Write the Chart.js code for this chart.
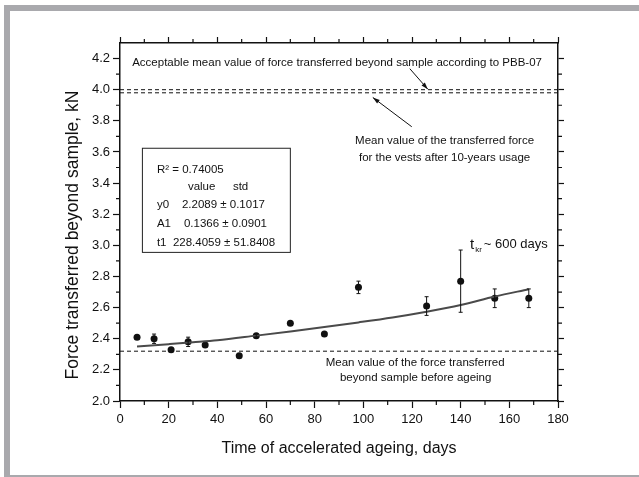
<!DOCTYPE html>
<html>
<head>
<meta charset="utf-8">
<script src="https://cdn.jsdelivr.net/npm/chart.js@4/dist/chart.umd.min.js"></script>
<style>
body{margin:0;background:#fff;}
#wrap{position:relative;width:639px;height:477px;overflow:hidden;background:#fff;}
.bar{position:absolute;background:#a9a9ad;}
canvas{position:absolute;left:0;top:0;}
</style>
</head>
<body>
<div id="wrap">
<div class="bar" style="left:4px;top:5px;width:635px;height:6px"></div>
<div class="bar" style="left:4px;top:5px;width:6px;height:472px"></div>
<div class="bar" style="left:4px;top:475px;width:635px;height:2px"></div>
<canvas id="meuGrafico" width="639" height="477"></canvas>
</div>
<script>
// measured points
var dias = [7, 14, 21, 28, 35, 49, 56, 70, 84, 98, 126, 140, 154, 168];
var forca = [2.41, 2.40, 2.33, 2.38, 2.36, 2.29, 2.42, 2.50, 2.43, 2.73, 2.61, 2.77, 2.66, 2.66];
var erro = [0.01, 0.03, 0, 0.03, 0.01, 0, 0.01, 0, 0, 0.04, 0.06, 0.2, 0.06, 0.06];

// fitted curve
var diasAjuste = [7, 20, 30, 40, 56, 70, 84, 98, 112, 126, 140, 154, 168];
var forcaAjuste = [2.35, 2.365, 2.377, 2.39, 2.42, 2.447, 2.475, 2.505, 2.537, 2.574, 2.617, 2.671, 2.718];

// reference levels: PBB-07, after 10 years, before ageing
var niveis = [4.00, 3.98, 2.32];

var xTicks = [0, 20, 40, 60, 80, 100, 120, 140, 160, 180];
var yTicks = [2.0, 2.2, 2.4, 2.6, 2.8, 3.0, 3.2, 3.4, 3.6, 3.8, 4.0, 4.2];

var fonte = "'Liberation Sans', Arial, sans-serif";
var preto = "#111";

var pontos = [];
for (var i = 0; i < dias.length; i++) pontos.push({x: dias[i], y: forca[i]});
var ajuste = [];
for (var i = 0; i < diasAjuste.length; i++) ajuste.push({x: diasAjuste[i], y: forcaAjuste[i]});

var datasets = [];
for (var i = 0; i < niveis.length; i++) {
  datasets.push({
    data: [{x: 0, y: niveis[i]}, {x: 180, y: niveis[i]}],
    showLine: true, pointRadius: 0, borderColor: preto, borderWidth: 1, borderDash: [4, 3]
  });
}
datasets.push({data: ajuste, showLine: true, pointRadius: 0, borderColor: "#4a4a4a", borderWidth: 2, cubicInterpolationMode: "monotone"});
datasets.push({data: pontos, showLine: false, pointRadius: 3.5, pointBorderWidth: 0, backgroundColor: preto, borderColor: preto});

function txt(ctx, s, x, y, size, align) {
  ctx.font = size + "px " + fonte;
  ctx.textAlign = align || "left";
  ctx.textBaseline = "middle";
  ctx.fillText(s, x, y);
}

function seta(ctx, x1, y1, x2, y2) {
  ctx.beginPath(); ctx.moveTo(x1, y1); ctx.lineTo(x2, y2); ctx.stroke();
  var ang = Math.atan2(y2 - y1, x2 - x1);
  ctx.beginPath();
  ctx.moveTo(x2, y2);
  ctx.lineTo(x2 - 7 * Math.cos(ang) + 2.2 * Math.sin(ang), y2 - 7 * Math.sin(ang) - 2.2 * Math.cos(ang));
  ctx.lineTo(x2 - 7 * Math.cos(ang) - 2.2 * Math.sin(ang), y2 - 7 * Math.sin(ang) + 2.2 * Math.cos(ang));
  ctx.closePath(); ctx.fill();
}

var extras = {
  id: "extras",
  afterDatasetsDraw: function(chart) {
    var ctx = chart.ctx, xs = chart.scales.x, ys = chart.scales.y, a = chart.chartArea;
    var X = function(v) { return xs.getPixelForValue(v); };
    var Y = function(v) { return ys.getPixelForValue(v); };
    ctx.save();
    ctx.strokeStyle = preto; ctx.fillStyle = preto; ctx.lineWidth = 1;

    // error bars
    for (var i = 0; i < dias.length; i++) {
      if (!erro[i]) continue;
      var px = X(dias[i]), t = Y(forca[i] + erro[i]), b = Y(forca[i] - erro[i]);
      ctx.beginPath();
      ctx.moveTo(px, t); ctx.lineTo(px, b);
      ctx.moveTo(px - 2, t); ctx.lineTo(px + 2, t);
      ctx.moveTo(px - 2, b); ctx.lineTo(px + 2, b);
      ctx.stroke();
    }

    // minor ticks
    ctx.lineWidth = 1.2;
    ctx.beginPath();
    for (var d = 10; d < 180; d += 20) {
      ctx.moveTo(X(d), a.bottom); ctx.lineTo(X(d), a.bottom + 4);
      ctx.moveTo(X(d), a.top); ctx.lineTo(X(d), a.top - 4);
    }
    for (var k = 1; k <= 21; k += 2) {
      var py = Y(2 + k * 0.1);
      ctx.moveTo(a.left, py); ctx.lineTo(a.left - 4, py);
      ctx.moveTo(a.right, py); ctx.lineTo(a.right + 4, py);
    }
    ctx.stroke();

    // annotations
    ctx.lineWidth = 1;
    txt(ctx, "Acceptable mean value of force transferred beyond sample according to PBB-07", X(89.2), Y(4.172), 11.5, "center");
    txt(ctx, "Mean value of the transferred force", X(133.4), Y(3.670), 11.5, "center");
    txt(ctx, "for the vests after 10-years usage", X(133.4), Y(3.561), 11.5, "center");
    txt(ctx, "Mean value of the force transferred", X(121.3), Y(2.244), 11.5, "center");
    txt(ctx, "beyond sample before ageing", X(121.5), Y(2.148), 11.5, "center");
    seta(ctx, X(119.1), Y(4.135), X(126.5), Y(4.003));
    seta(ctx, X(119.9), Y(3.762), X(103.9), Y(3.95));

    // t_kr
    txt(ctx, "t", X(143.8), Y(3.005), 15);
    txt(ctx, "kr", X(146.0), Y(2.97), 8);
    txt(ctx, "~ 600 days", X(149.5), Y(3.005), 13);

    // fit box
    var bx = X(9.0), by = Y(3.627), bw = X(69.8) - bx, bh = Y(2.958) - by;
    ctx.strokeStyle = "#222";
    ctx.strokeRect(bx + 0.5, by + 0.5, bw, bh);
    txt(ctx, "R\u00b2 = 0.74005", bx + 15, by + 22, 11.5);
    txt(ctx, "value", bx + 46, by + 39, 11.5);
    txt(ctx, "std", bx + 91, by + 39, 11.5);
    txt(ctx, "y0", bx + 15, by + 57, 11.5);
    txt(ctx, "2.2089 \u00b1 0.1017", bx + 40, by + 57, 11.5);
    txt(ctx, "A1", bx + 15, by + 76, 11.5);
    txt(ctx, "0.1366 \u00b1 0.0901", bx + 42, by + 76, 11.5);
    txt(ctx, "t1  228.4059 \u00b1 51.8408", bx + 15, by + 95, 11.5);

    // y axis title
    ctx.save();
    ctx.translate(73, (a.top + a.bottom) / 2 + 13);
    ctx.rotate(-Math.PI / 2);
    txt(ctx, "Force transferred beyond sample, kN", 0, 0, 17.5, "center");
    ctx.restore();
    ctx.restore();
  }
};

function eixo(pos, passo, min, max, visivel, tamanho, extra) {
  var o = {
    type: "linear", position: pos, min: min, max: max,
    ticks: {stepSize: passo, includeBounds: false, display: visivel, color: preto,
            font: {size: 13, family: fonte}, maxRotation: 0},
    grid: {drawOnChartArea: false, drawTicks: true, tickLength: visivel ? 7 : 6, tickColor: preto, tickWidth: 1.2},
    border: {display: true, color: preto, width: 1.5},
    afterFit: function(s) { if (pos == "left" || pos == "right") s.width = tamanho; else s.height = tamanho; }
  };
  if (extra) for (var k in extra) o[k] = extra[k];
  return o;
}

var sx = eixo("bottom", 20, 0, 180, true, 76, {
  title: {display: true, text: "Time of accelerated ageing, days", color: preto,
          font: {size: 16, family: fonte}, padding: {top: 0, bottom: 19}}
});
sx.ticks.padding = 4;
sx.ticks.callback = function(v) { return xTicks.indexOf(v) >= 0 ? String(v) : ""; };
var sy = eixo("left", 0.2, 2.0, 4.3, true, 120);
sy.ticks.padding = 3;
sy.ticks.callback = function(v) {
  for (var i = 0; i < yTicks.length; i++) if (Math.abs(yTicks[i] - v) < 1e-6) return v.toFixed(1);
  return "";
};

new Chart("meuGrafico", {
  type: "scatter",
  data: {datasets: datasets},
  options: {
    responsive: false,
    animation: false,
    layout: {padding: {left: 0, right: 73, top: 35, bottom: 0}},
    plugins: {legend: {display: false}, tooltip: {enabled: false}},
    scales: {
      x: sx,
      x2: eixo("top", 20, 0, 180, false, 8),
      y: sy,
      y2: eixo("right", 0.2, 2.0, 4.3, false, 8)
    }
  },
  plugins: [extras]
});
</script>
</body>
</html>
